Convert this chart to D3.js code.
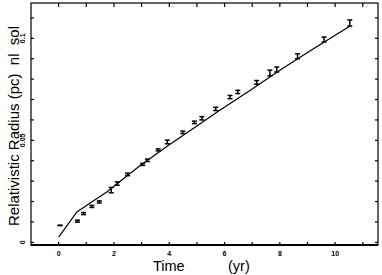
<!DOCTYPE html>
<html>
<head>
<meta charset="utf-8">
<script src="https://cdn.jsdelivr.net/npm/d3@7"></script>
<style>
  html, body { margin: 0; padding: 0; background: #fff; }
  svg { display: block; font-family: "Liberation Sans", Arial, Helvetica, sans-serif; }
</style>
</head>
<body>
<div id="chart"></div>
<script>
// observed radii (pc) with error bars
const times  = [0.05, 0.68, 0.9, 1.2, 1.47, 1.9, 2.12, 2.49, 3.04, 3.21, 3.6, 3.93, 4.49, 4.91, 5.18, 5.68, 6.2, 6.48, 7.16, 7.64, 7.89, 8.64, 9.6, 10.53];
const radii  = [0.0083, 0.0104, 0.0141, 0.0176, 0.0198, 0.0256, 0.0288, 0.0333, 0.0382, 0.0402, 0.0453, 0.0492, 0.0539, 0.0588, 0.0608, 0.0654, 0.0712, 0.0737, 0.0784, 0.083, 0.0847, 0.0912, 0.0994, 0.1075];
const errors = [0.0001, 0.0005, 0.0005, 0.0005, 0.0005, 0.0013, 0.0008, 0.0006, 0.0005, 0.0006, 0.0005, 0.0009, 0.0006, 0.0006, 0.0008, 0.0008, 0.0008, 0.0008, 0.0009, 0.0014, 0.0012, 0.0012, 0.0012, 0.0015];

// model curve
const modelTimes = [0, 0.66, 1.14, 1.74, 2.34, 2.95, 4, 5, 5.68, 7, 8, 9, 10, 10.53];
const modelRadii = [0.0026, 0.0149, 0.0193, 0.0247, 0.0312, 0.0377, 0.0478, 0.057, 0.0634, 0.0752, 0.0843, 0.0931, 0.1015, 0.1059];

const xTickLabels = [0, 2, 4, 6, 8, 10];
const yTickLabels = [0, 0.05, 0.1];

const width = 382, height = 275;
const plotLeft = 31, plotRight = 378, plotTop = 3, plotBottom = 245;

const svg = d3.select("#chart").append("svg")
  .attr("width", width).attr("height", height);

const x = d3.scaleLinear().domain([-1, 11.55]).range([plotLeft, plotRight]);
const y = d3.scaleLinear().domain([-0.0013, 0.1173]).range([plotBottom, plotTop]);

// frame
svg.append("rect")
  .attr("x", plotLeft).attr("y", plotTop)
  .attr("width", plotRight - plotLeft).attr("height", plotBottom - plotTop)
  .attr("fill", "none").attr("stroke", "#000").attr("stroke-width", 1.2);
svg.append("line")
  .attr("x1", plotLeft).attr("x2", plotRight).attr("y1", plotBottom).attr("y2", plotBottom)
  .attr("stroke", "#000").attr("stroke-width", 2.2);

// ticks
const xMinor = d3.range(0, 12, 1);
const yMinor = d3.range(0, 0.115, 0.01);
const ticks = svg.append("g").attr("stroke", "#000").attr("stroke-width", 1.2);
xMinor.forEach(t => {
  ticks.append("line").attr("x1", x(t)).attr("x2", x(t)).attr("y1", plotBottom).attr("y2", plotBottom - 3);
  ticks.append("line").attr("x1", x(t)).attr("x2", x(t)).attr("y1", plotTop).attr("y2", plotTop + 4);
});
yMinor.forEach(t => {
  ticks.append("line").attr("x1", plotLeft).attr("x2", plotLeft + 3).attr("y1", y(t)).attr("y2", y(t));
  ticks.append("line").attr("x1", plotRight).attr("x2", plotRight - 3).attr("y1", y(t)).attr("y2", y(t));
});

// tick labels
svg.append("g").selectAll("text").data(xTickLabels).join("text")
  .attr("x", d => x(d)).attr("y", 255.5)
  .attr("text-anchor", "middle")
  .attr("font-size", 7).attr("font-weight", "bold")
  .text(d => d);
svg.append("g").selectAll("text").data(yTickLabels).join("text")
  .attr("transform", d => `translate(25,${y(d)}) rotate(-90)`)
  .attr("text-anchor", "middle")
  .attr("font-size", 7).attr("font-weight", "bold")
  .text(d => d);

// axis titles
svg.append("text")
  .attr("transform", "translate(19,126) rotate(-90)")
  .attr("text-anchor", "middle")
  .attr("font-size", 15)
  .style("white-space", "pre")
  .text("Relativistic Radius (pc)  nl  sol");
svg.append("text").attr("x", 153).attr("y", 270.5).attr("font-size", 14.5).text("Time");
svg.append("text").attr("x", 228).attr("y", 270.5).attr("font-size", 14.5).text("(yr)");

// model curve
const curve = modelTimes.map((t, i) => [t, modelRadii[i]]);
svg.append("path")
  .datum(curve)
  .attr("fill", "none").attr("stroke", "#000").attr("stroke-width", 1.2)
  .attr("d", d3.line().x(d => x(d[0])).y(d => y(d[1])));

// error bars
const pts = times.map((t, i) => ({t: t, r: radii[i], e: errors[i]}));
const bars = svg.append("g").attr("stroke", "#000").attr("stroke-width", 1.5);
pts.forEach(p => {
  const cx = x(p.t), y1 = y(p.r + p.e), y2 = y(p.r - p.e);
  bars.append("line").attr("x1", cx).attr("x2", cx).attr("y1", y1).attr("y2", y2);
  bars.append("line").attr("x1", cx - 2.5).attr("x2", cx + 2.5).attr("y1", y1).attr("y2", y1);
  bars.append("line").attr("x1", cx - 2.5).attr("x2", cx + 2.5).attr("y1", y2).attr("y2", y2);
});
</script>
</body>
</html>
